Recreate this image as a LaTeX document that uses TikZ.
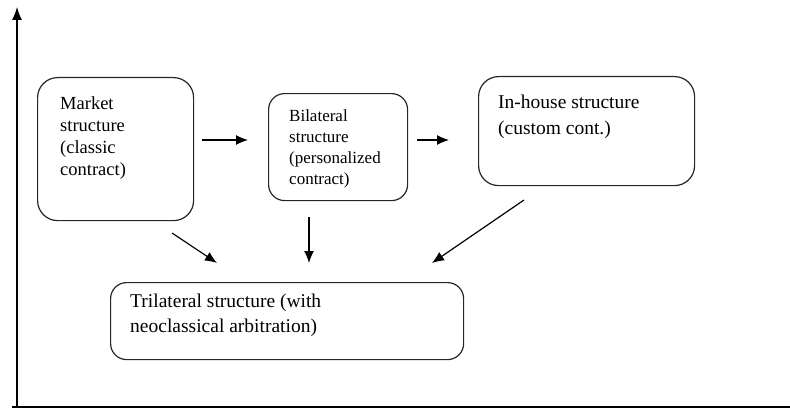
\documentclass[tikz,border=0pt]{standalone}
\usepackage{fontspec}
\setmainfont{Liberation Serif}
\usetikzlibrary{arrows.meta}
\begin{document}
\begin{tikzpicture}[x=1pt,y=-1pt,
  box/.style={draw=black!85,line width=1.2pt,rounded corners=20pt,anchor=north west,inner sep=0pt},
  txt/.style={anchor=north west,inner sep=0pt,align=left,font=\fontsize{18.5}{22}\selectfont},
  flow/.style={line width=1.2pt,-{Latex[length=12pt,width=10pt]}},
  axis/.style={line width=1.2pt}]
\useasboundingbox (0,0) rectangle (790,412);

% axes
\coordinate (origin) at (17,407);
\coordinate (ytop) at (17,7);
\coordinate (xleft) at (12,407);
\coordinate (xright) at (790,407);
\draw[axis,-{Latex[length=13pt,width=10pt]}] (origin) -- (ytop);
\draw[axis] (xleft) -- (xright);

% boxes
\node[box,minimum width=156pt,minimum height=143pt] (market) at (37,77) {};
\node[box,minimum width=139pt,minimum height=107pt,rounded corners=16pt] (bilateral) at (268,93) {};
\node[box,minimum width=216pt,minimum height=109pt] (inhouse) at (478,76) {};
\node[box,minimum width=353pt,minimum height=77pt,rounded corners=16pt] (trilateral) at (110,282) {};

% labels
\node[txt] (markettxt) at (60,96) {Market\\structure\\(classic\\contract)};
\node[txt,font=\fontsize{17}{21}\selectfont] (bilateraltxt) at (289,110) {Bilateral\\structure\\(personalized\\contract)};
\node[txt,font=\fontsize{19.5}{26}\selectfont] (inhousetxt) at (498,95) {In-house structure\\(custom cont.)};
\node[txt,font=\fontsize{19.5}{25}\selectfont] (trilateraltxt) at (130,294) {Trilateral structure (with\\neoclassical arbitration)};

% connectors
\coordinate (a1s) at (202,140); \coordinate (a1e) at (248,140);
\coordinate (a2s) at (417,140); \coordinate (a2e) at (449,140);
\coordinate (a3s) at (172,233); \coordinate (a3e) at (217,263);
\coordinate (a4s) at (309,217); \coordinate (a4e) at (309,263);
\coordinate (a5s) at (524,200); \coordinate (a5e) at (432,263);
\draw[flow] (a1s) -- (a1e);
\draw[flow] (a2s) -- (a2e);
\draw[flow] (a3s) -- (a3e);
\draw[flow] (a4s) -- (a4e);
\draw[flow] (a5s) -- (a5e);
\end{tikzpicture}
\end{document}
